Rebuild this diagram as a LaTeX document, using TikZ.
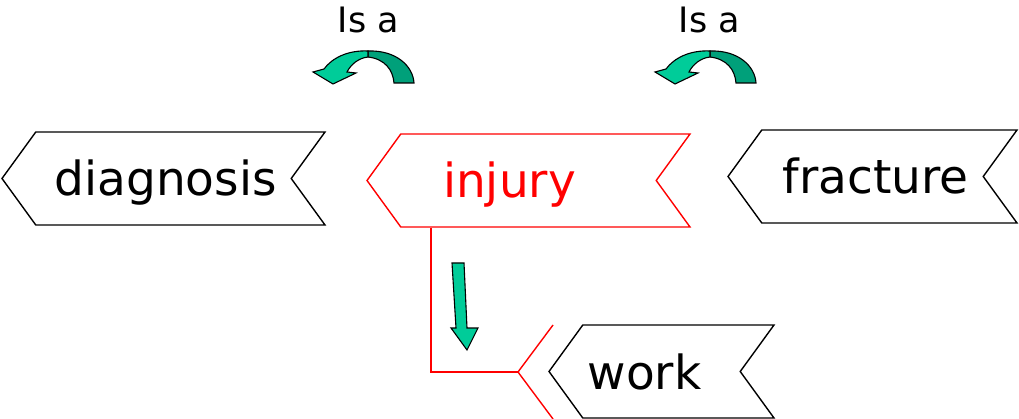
\documentclass[tikz,border=0pt]{standalone}
\usepackage{fontspec}
\setmainfont{DejaVu Sans}
\usetikzlibrary{shapes.symbols}
\definecolor{turnlight}{HTML}{00CC99}
\definecolor{turndark}{HTML}{00A07A}

\begin{document}
\begin{tikzpicture}[
    x=1pt, y=-1pt,
    tag/.style={signal, signal to=west, signal from=east, signal pointer angle=108,
        draw=black, line width=1.4pt, minimum height=93pt, inner sep=0pt},
    word/.style={font=\fontsize{47}{50}\selectfont, text height=35pt, text depth=0pt},
    isa/.style={font=\fontsize{35}{38}\selectfont},
    turn/.style={draw=black, line width=1.1pt}
]
\useasboundingbox (0,0) rectangle (1019,419);

% Tags
\node[tag, minimum width=323pt, label={[word, xshift=2pt]center:diagnosis}] (diagnosis) at (163.5,178.5) {};
\node[tag, draw=red, minimum width=323pt, label={[word, text=red, xshift=-19pt]center:injury}] (injury) at (528.5,180.5) {};
\node[tag, minimum width=289pt, label={[word, xshift=3pt]center:fracture}] (fracture) at (872.5,176.5) {};
\node[tag, minimum width=225pt, label={[word, xshift=-17pt]center:work}] (work) at (661.5,371.5) {};

% Red link to work
\coordinate (redTop) at (553,325);
\coordinate (redTip) at (518,372);
\coordinate (redBot) at (553,419);
\draw[red, line width=1.4pt] (redTop) -- (redTip) -- (redBot);
\draw[red, line width=1.4pt] (431,0 |- injury.south) |- (redTip);

% Is a
\node[isa, anchor=base] (isaLeft) at (368.5,33) {Is a};
\node[isa, anchor=base] (isaRight) at (709.5,33) {Is a};

\foreach \dx in {0,342} {
    \begin{scope}[xshift=\dx pt]
        \filldraw[turn, fill=turndark] (368,51) .. controls (396,50) and (413,66) .. (414,83)
            -- (394,83) .. controls (393,70) and (385,59) .. (368,57) -- cycle;
        \filldraw[turn, fill=turnlight] (368,51) .. controls (348,50) and (332,58) .. (324,69)
            -- (313,72) -- (333,84) -- (356,73) -- (347,72)
            .. controls (351,64) and (359,58) .. (368,57) -- cycle;
    \end{scope}
}

% Down arrow
\filldraw[turn, fill=turnlight] (452,263) -- (464,263) -- (467,328) -- (478,328)
    -- (467,350) -- (451,328) -- (456,328) -- cycle;

\end{tikzpicture}
\end{document}
